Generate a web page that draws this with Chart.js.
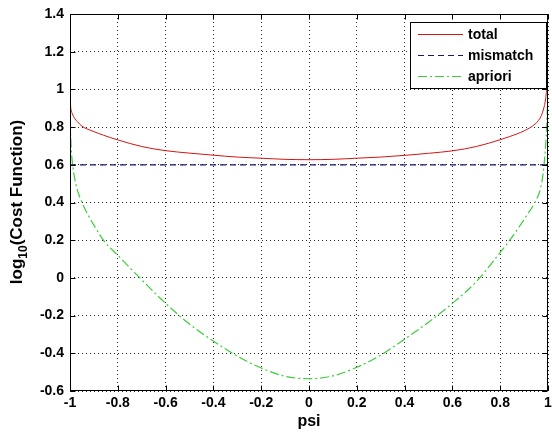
<!DOCTYPE html>
<html>
<head>
<meta charset="utf-8">
<script src="https://cdn.jsdelivr.net/npm/chart.js@4.4.1/dist/chart.umd.min.js"></script>
<style>
  html, body { margin: 0; padding: 0; background: #fff; }
  #wrap { width: 552px; height: 438px; position: relative; }
</style>
</head>
<body>
<div id="wrap"><canvas id="c" width="552" height="438"></canvas></div>
<script>
// Sample positions along psi
const psiValues = [-1, -0.998, -0.995, -0.99, -0.98, -0.97, -0.95, -0.9, -0.86, -0.8, -0.7,
  -0.6, -0.5, -0.4, -0.3, -0.2, -0.1, 0, 0.1, 0.2, 0.3, 0.4, 0.5, 0.6, 0.7, 0.8, 0.84, 0.9,
  0.945, 0.96, 0.97, 0.98, 0.99, 0.995, 0.998, 1];

// log10 of total cost
const totalValues = [1.10, 0.93, 0.89, 0.87, 0.845, 0.83, 0.805, 0.776, 0.757, 0.732, 0.697,
  0.675, 0.662, 0.651, 0.641, 0.635, 0.629, 0.627, 0.629, 0.635, 0.641, 0.65, 0.661, 0.674,
  0.697, 0.733, 0.75, 0.78, 0.815, 0.835, 0.855, 0.89, 0.95, 1.02, 1.12, 1.25];

// log10 of a-priori term
const aprioriValues = [0.92, 0.79, 0.69, 0.61, 0.525, 0.47, 0.40, 0.28, 0.2, 0.12, -0.01,
  -0.135, -0.245, -0.335, -0.415, -0.478, -0.522, -0.535, -0.52, -0.474, -0.41, -0.325,
  -0.235, -0.135, -0.02, 0.135, 0.2, 0.31, 0.40, 0.44, 0.48, 0.56, 0.7, 0.82, 0.95, 1.14];

// log10 of mismatch term (flat)
const mismatchPsi = [-1, 1];
const mismatchValues = [0.6, 0.6];

const xTicks = [-1, -0.8, -0.6, -0.4, -0.2, 0, 0.2, 0.4, 0.6, 0.8, 1];
const yTicks = [-0.6, -0.4, -0.2, 0, 0.2, 0.4, 0.6, 0.8, 1, 1.2, 1.4];

const seriesNames = ['total', 'mismatch', 'apriori'];
const seriesColors = ['#d41414', '#14147a', '#3ccc3c'];
const seriesDash = [[], [6, 4], [9, 3, 2, 3]];

const toPoints = (xs, ys) => xs.map((x, i) => ({ x: x, y: ys[i] }));

const fmt = v => {
  const r = Math.round(v * 10) / 10;
  return (Object.is(r, -0) ? 0 : r).toString();
};

const tickFont = { family: 'Liberation Sans, Arial, sans-serif', size: 14, weight: 'bold' };

// Box, inward tick marks, legend and axis titles
const decorPlugin = {
  id: 'decor',
  afterDraw(chart) {
    const ctx = chart.ctx;
    const a = chart.chartArea;
    const xs = chart.scales.x, ys = chart.scales.y;
    ctx.save();
    ctx.strokeStyle = '#000';
    ctx.lineWidth = 1;
    ctx.setLineDash([]);
    const L = Math.round(a.left) + 0.5, R = Math.round(a.right) - 0.5;
    const T = Math.round(a.top) + 0.5, B = Math.round(a.bottom) - 0.5;
    ctx.strokeRect(L, T, R - L, B - T);
    const tl = 5;
    ctx.beginPath();
    xTicks.forEach(v => {
      const px = Math.round(xs.getPixelForValue(v)) + 0.5;
      ctx.moveTo(px, B); ctx.lineTo(px, B - tl);
      ctx.moveTo(px, T); ctx.lineTo(px, T + tl);
    });
    yTicks.forEach(v => {
      const py = Math.round(ys.getPixelForValue(v)) + 0.5;
      ctx.moveTo(L, py); ctx.lineTo(L + tl, py);
      ctx.moveTo(R, py); ctx.lineTo(R - tl, py);
    });
    ctx.stroke();

    // legend
    const lx = 410.5, ly = 22.5, lw = 136, lh = 66;
    ctx.fillStyle = '#fff';
    ctx.fillRect(lx, ly, lw, lh);
    ctx.strokeStyle = '#000';
    ctx.strokeRect(lx, ly, lw, lh);
    ctx.font = 'bold 14px "Liberation Sans", Arial, sans-serif';
    ctx.textBaseline = 'middle';
    ctx.textAlign = 'left';
    const rows = [34.5, 55.5, 76.5];
    seriesNames.forEach((name, i) => {
      ctx.strokeStyle = seriesColors[i];
      ctx.lineWidth = 1;
      ctx.setLineDash(seriesDash[i]);
      ctx.beginPath();
      ctx.moveTo(418, rows[i]);
      ctx.lineTo(463, rows[i]);
      ctx.stroke();
      ctx.setLineDash([]);
      ctx.fillStyle = '#000';
      ctx.fillText(name, 468, rows[i] + 0.5);
    });

    // x axis title
    ctx.fillStyle = '#000';
    ctx.font = 'bold 16px "Liberation Sans", Arial, sans-serif';
    ctx.textAlign = 'center';
    ctx.textBaseline = 'alphabetic';
    ctx.fillText('psi', (a.left + a.right) / 2, 426);

    // y axis title with subscript
    ctx.translate(22, 202);
    ctx.rotate(-Math.PI / 2);
    const big = 'bold 17px "Liberation Sans", Arial, sans-serif';
    const small = 'bold 12px "Liberation Sans", Arial, sans-serif';
    ctx.font = big;
    const w1 = ctx.measureText('log').width;
    const w3 = ctx.measureText('(Cost Function)').width;
    ctx.font = small;
    const w2 = ctx.measureText('10').width;
    let x0 = -(w1 + w2 + w3) / 2;
    ctx.textAlign = 'left';
    ctx.font = big;
    ctx.fillText('log', x0, 0);
    ctx.font = small;
    ctx.fillText('10', x0 + w1, 5);
    ctx.font = big;
    ctx.fillText('(Cost Function)', x0 + w1 + w2, 0);
    ctx.restore();
  }
};

new Chart(document.getElementById('c'), {
  type: 'line',
  data: {
    datasets: [
      { label: seriesNames[0], data: toPoints(psiValues, totalValues),
        borderColor: seriesColors[0], borderWidth: 1, borderDash: seriesDash[0],
        pointRadius: 0, cubicInterpolationMode: 'monotone', fill: false },
      { label: seriesNames[1], data: toPoints(mismatchPsi, mismatchValues),
        borderColor: seriesColors[1], borderWidth: 1.2, borderDash: seriesDash[1],
        pointRadius: 0, fill: false },
      { label: seriesNames[2], data: toPoints(psiValues, aprioriValues),
        borderColor: seriesColors[2], borderWidth: 1.2, borderDash: seriesDash[2],
        pointRadius: 0, cubicInterpolationMode: 'monotone', fill: false }
    ]
  },
  options: {
    responsive: false,
    animation: false,
    events: [],
    layout: { padding: { left: 0, right: 4, top: 14, bottom: 0 } },
    plugins: { legend: { display: false }, tooltip: { enabled: false } },
    scales: {
      x: {
        type: 'linear', min: -1, max: 1,
        afterBuildTicks: s => { s.ticks = xTicks.map(v => ({ value: v })); },
        afterFit: s => { s.height = 47; s.paddingLeft = 0; s.paddingRight = 0; },
        grid: { color: '#222', lineWidth: 1, drawTicks: false, borderDash: [1, 3] },
        border: { display: false, dash: [1, 3] },
        ticks: { color: '#000', font: tickFont, padding: 4, maxRotation: 0, autoSkip: false,
                 callback: v => fmt(v) }
      },
      y: {
        type: 'linear', min: -0.6, max: 1.4,
        afterBuildTicks: s => { s.ticks = yTicks.map(v => ({ value: v })); },
        afterFit: s => { s.width = 70; s.paddingTop = 0; s.paddingBottom = 0; },
        grid: { color: '#222', lineWidth: 1, drawTicks: false, borderDash: [1, 3] },
        border: { display: false, dash: [1, 3] },
        ticks: { color: '#000', font: tickFont, padding: 6, autoSkip: false,
                 callback: v => fmt(v) }
      }
    }
  },
  plugins: [decorPlugin]
});
</script>
</body>
</html>
